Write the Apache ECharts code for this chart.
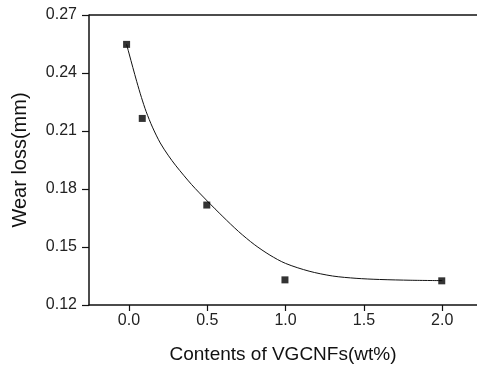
<!DOCTYPE html>
<html><head><meta charset="utf-8">
<script src="https://cdn.jsdelivr.net/npm/echarts@6/dist/echarts.min.js"></script>
<style>html,body{margin:0;padding:0;background:#fff}#c{width:477px;height:369px}</style>
</head><body><div id="c"></div>
<script>
var pointX = [-0.015, 0.085, 0.497, 0.996, 1.997];
var pointY = [0.2548, 0.2165, 0.1717, 0.1330, 0.1325];
var curveX = [-0.015, 0.0, 0.025, 0.05, 0.08, 0.11, 0.15, 0.2, 0.25, 0.3, 0.4, 0.5, 0.6, 0.7, 0.8, 0.9, 1.0, 1.15, 1.3, 1.45, 1.6, 1.8, 2.0];
var curveY = [0.2548, 0.2503, 0.2428, 0.2355, 0.2273, 0.2200, 0.2120, 0.2038, 0.1975, 0.1920, 0.1823, 0.1738, 0.1657, 0.1580, 0.1513, 0.1458, 0.1415, 0.1375, 0.1350, 0.1338, 0.1332, 0.1328, 0.1326];
var xTicks = [0, 0.5, 1.0, 1.5, 2.0];
var yTicks = [0.12, 0.15, 0.18, 0.21, 0.24, 0.27];

var font = 'Liberation Sans, Arial, sans-serif';
var chart = echarts.init(document.getElementById('c'), null, {renderer: 'canvas'});
chart.setOption({
  animation: false,
  grid: {left: 89, right: 0, top: 15, bottom: 64},
  xAxis: {
    type: 'value', min: -0.255, max: 2.222,
    name: 'Contents of VGCNFs(wt%)', nameLocation: 'middle', nameGap: 40,
    nameTextStyle: {fontFamily: font, fontSize: 19, color: '#111'},
    axisLine: {show: true, onZero: false, lineStyle: {color: '#111', width: 1.5}},
    axisTick: {show: true, length: 6, customValues: xTicks, lineStyle: {color: '#111', width: 1.2}},
    axisLabel: {customValues: xTicks, fontFamily: font, fontSize: 16, color: '#222', margin: 8,
      formatter: function (v) { return v.toFixed(1); }},
    splitLine: {show: false}
  },
  yAxis: {
    type: 'value', min: 0.12, max: 0.27, interval: 0.03,
    name: 'Wear loss(mm)', nameLocation: 'middle', nameGap: 59,
    nameTextStyle: {fontFamily: font, fontSize: 20, color: '#111'},
    axisLine: {show: true, onZero: false, lineStyle: {color: '#111', width: 1.5}},
    axisTick: {show: true, length: 7, lineStyle: {color: '#111', width: 1.2}},
    axisLabel: {fontFamily: font, fontSize: 16, color: '#222', margin: 12,
      formatter: function (v) { return v.toFixed(2); }},
    splitLine: {show: false}
  },
  series: [
    {
      type: 'line', smooth: 0.3, showSymbol: false,
      data: curveX.map(function (x, i) { return [x, curveY[i]]; }),
      lineStyle: {color: '#111', width: 1},
      z: 2
    },
    {
      type: 'scatter', symbol: 'rect', symbolSize: 7,
      data: pointX.map(function (x, i) { return [x, pointY[i]]; }),
      itemStyle: {color: '#000'},
      z: 3
    }
  ],
  graphic: [
    {type: 'line', shape: {x1: 89, y1: 15, x2: 477, y2: 15}, style: {stroke: '#111', lineWidth: 1.5}}
  ]
});
</script></body></html>
